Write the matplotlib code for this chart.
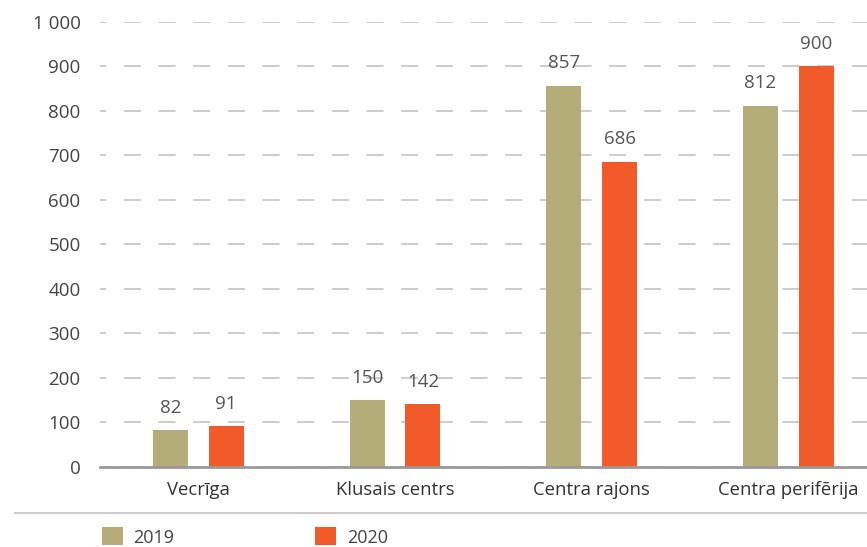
import numpy as np
import matplotlib.pyplot as plt
from matplotlib.lines import Line2D
from matplotlib.ticker import FuncFormatter

categories = ["Vecrīga", "Klusais centrs", "Centra rajons", "Centra perifērija"]
years = ["2019", "2020"]
values_2019 = [82, 150, 857, 812]
values_2020 = [91, 142, 686, 900]

c2019 = "#b4ac79"
c2020 = "#f15a29"

plt.rcParams['font.family'] = ['Open Sans', 'DejaVu Sans']

fig = plt.figure(figsize=(8.67, 5.47), dpi=100)
ax = fig.add_axes([0.1153, 0.1463, 0.8847, 0.8135])

x = np.arange(len(categories))
w = 0.178
off = 0.142
b1 = ax.bar(x - off, values_2019, w, color=c2019, label=years[0], zorder=3)
b2 = ax.bar(x + off, values_2020, w, color=c2020, label=years[1], zorder=3)

# value labels above bars
for bars, vals in [(b1, values_2019), (b2, values_2020)]:
    for r, v in zip(bars, vals):
        ax.annotate(str(v), (r.get_x() + r.get_width() / 2, v), xytext=(0, 16),
                    textcoords="offset points", ha="center", va="center",
                    fontsize=13.5, color="#555555")

ax.set_xlim(-0.5, 3.4)
ax.set_ylim(0, 1000)
ax.set_yticks(range(0, 1001, 100))
ax.yaxis.set_major_formatter(FuncFormatter(lambda v, p: f"{int(v):,}".replace(",", " ")))
ax.set_xticks(x)
ax.set_xticklabels(categories)
ax.tick_params(axis="y", length=0, pad=14, labelsize=13.5, labelcolor="#444444")
ax.tick_params(axis="x", length=0, pad=10, labelsize=13.3, labelcolor="#333333")

ax.grid(axis="y", color="#c8c8c8", linewidth=1.3, linestyle=(6, (9.4, 9.8)), zorder=0)
for s in ["top", "right", "left"]:
    ax.spines[s].set_visible(False)
ax.spines["bottom"].set_color("#999999")
ax.spines["bottom"].set_linewidth(2)
ax.spines["bottom"].set_zorder(4)

fig.add_artist(Line2D([15 / 867, 1], [1 - 513 / 547] * 2, color="#cccccc", linewidth=1.5))

fig.legend(handles=[b1, b2], loc="center left", bbox_to_anchor=(102 / 867, 1 - 537 / 547),
           ncol=2, frameon=False, borderpad=0, borderaxespad=0, fontsize=13,
           handlelength=1.15, handleheight=1.15, handletextpad=0.6, columnspacing=7.8,
           labelcolor="#444444")

fig.savefig("out.png", dpi=100)
